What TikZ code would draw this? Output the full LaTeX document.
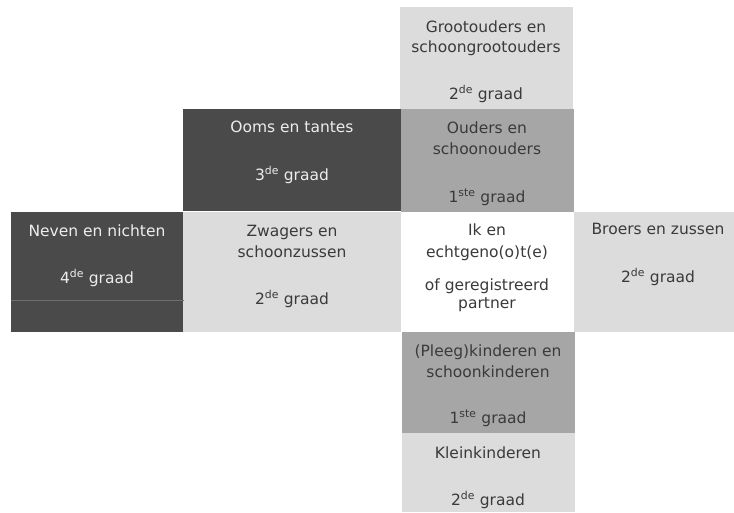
\documentclass[tikz,border=0pt]{standalone}
\usepackage{fontspec}
\setmainfont{DejaVu Sans}
\definecolor{darkbox}{HTML}{4A4A4A}
\definecolor{midbox}{HTML}{A6A6A6}
\definecolor{lightbox}{HTML}{DCDCDC}
\definecolor{darktxt}{HTML}{3A3A3A}
\definecolor{lighttxt}{HTML}{EDEDED}
\begin{document}
\begin{tikzpicture}[x=1pt,y=-1pt,
  box/.style={anchor=north west,inner sep=0pt,outer sep=0pt,draw=none},
  lbl/.style={anchor=base,inner sep=0pt,font=\fontsize{15.5}{18}\selectfont,text=darktxt},
  lbldark/.style={lbl,text=lighttxt}]
\useasboundingbox (0,0) rectangle (734,512);
\fill[white] (0,0) rectangle (734,512);
% boxes
\node[box,fill=lightbox,minimum width=173pt,minimum height=102pt] (gp) at (400,7) {};
\node[box,fill=darkbox,minimum width=218pt,minimum height=102pt] (oom) at (183,109) {};
\node[box,fill=midbox,minimum width=173pt,minimum height=103pt] (oud) at (401,109) {};
\node[box,fill=darkbox,minimum width=173pt,minimum height=120pt] (nev) at (11,212) {};
\node[box,fill=lightbox,minimum width=218pt,minimum height=120pt] (zwa) at (183,212) {};
\node[box,fill=white,minimum width=173pt,minimum height=120pt] (ik) at (401,212) {};
\node[box,fill=lightbox,minimum width=160pt,minimum height=120pt] (bro) at (574,212) {};
\node[box,fill=midbox,minimum width=173pt,minimum height=101pt] (kin) at (402,332) {};
\node[box,fill=lightbox,minimum width=173pt,minimum height=79pt] (kle) at (402,433) {};
\draw[gray!70!darkbox,line width=0.6pt] (nev.west |- 0,300) coordinate (nl1) -- (nev.east |- 0,300) coordinate (nl2);
% texts
\node[lbl] (gp1) at (486,32) {Grootouders en};
\node[lbl] (gp2) at (486,52) {schoongrootouders};
\node[lbl] (gp3) at (486,99) {2\textsuperscript{de} graad};
\node[lbldark] (oom1) at (292,132) {Ooms en tantes};
\node[lbldark] (oom2) at (292,180) {3\textsuperscript{de} graad};
\node[lbl] (oud1) at (487,133) {Ouders en};
\node[lbl] (oud2) at (487,154) {schoonouders};
\node[lbl] (oud3) at (487,202) {1\textsuperscript{ste} graad};
\node[lbldark] (nev1) at (97,236) {Neven en nichten};
\node[lbldark] (nev2) at (97,283) {4\textsuperscript{de} graad};
\node[lbl] (zwa1) at (292,236) {Zwagers en};
\node[lbl] (zwa2) at (292,257) {schoonzussen};
\node[lbl] (zwa3) at (292,304) {2\textsuperscript{de} graad};
\node[lbl] (ik1) at (487,235) {Ik en};
\node[lbl] (ik2) at (487,257) {echtgeno(o)t(e)};
\node[lbl] (ik3) at (487,290) {of geregistreerd};
\node[lbl] (ik4) at (487,308) {partner};
\node[lbl] (bro1) at (658,234) {Broers en zussen};
\node[lbl] (bro2) at (658,282) {2\textsuperscript{de} graad};
\node[lbl] (kin1) at (488,356) {(Pleeg)kinderen en};
\node[lbl] (kin2) at (488,377) {schoonkinderen};
\node[lbl] (kin3) at (488,423) {1\textsuperscript{ste} graad};
\node[lbl] (kle1) at (488,458) {Kleinkinderen};
\node[lbl] (kle2) at (488,505) {2\textsuperscript{de} graad};
\end{tikzpicture}
\end{document}
